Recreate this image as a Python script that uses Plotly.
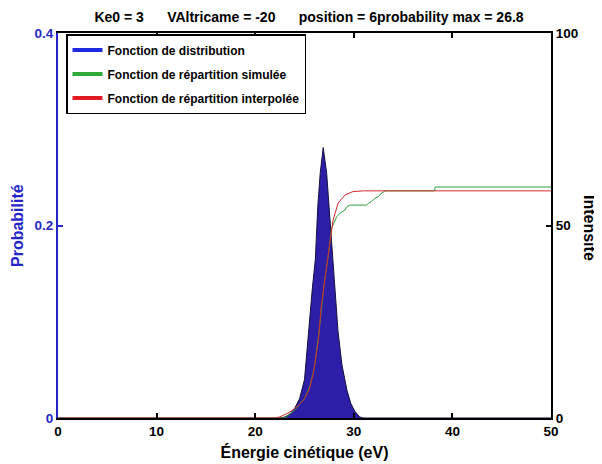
import plotly.graph_objects as go

# ---- data ----
energy_dist = [0, 22.5, 23.0, 23.5, 24.0, 24.5, 25.0, 25.4, 25.8, 26.1, 26.35, 26.6, 26.9,
               27.25, 27.5, 27.65, 27.9, 28.2, 28.4, 28.8, 29.3, 29.7, 30.1, 30.6, 31.0, 50]
prob_dist = [0, 0, 0.001, 0.004, 0.010, 0.020, 0.040, 0.090, 0.135, 0.165, 0.220, 0.255, 0.281,
             0.254, 0.220, 0.195, 0.160, 0.120, 0.090, 0.055, 0.029, 0.015, 0.007, 0.001, 0, 0]

energy_sim = [0, 23.0, 24.0, 25.0, 25.5, 26.0, 26.5, 27.0, 27.4, 27.6, 27.75, 28.27, 28.6, 29.1,
              29.3, 29.6, 31.3, 31.5, 31.8, 32.15, 32.5, 32.8, 33.2, 38.2, 38.25, 50]
cdf_sim = [0, 0, 2, 5, 8, 13, 23, 35, 42, 47, 49.3, 52.3, 53.2, 54.0,
           54.9, 55.3, 55.3, 55.8, 56.2, 57.1, 57.5, 58.4, 59.0, 59.0, 60.0, 60.0]

energy_interp = [0, 22.0, 22.5, 23.0, 23.5, 24.0, 24.5, 25.0, 25.5, 25.9, 26.4, 26.7, 26.9, 27.1,
                 27.4, 27.65, 27.9, 28.4, 29.1, 29.9, 31.0, 50]
cdf_interp = [0, 0, 0.3, 0.8, 1.5, 2.5, 3.5, 5.0, 7.5, 11.6, 20.0, 29.0, 33.0, 37.0,
              42.0, 47.0, 51.4, 55.8, 57.9, 58.8, 59.0, 59.0]

legend_labels = ["Fonction de distribution", "Fonction de répartition simulée",
                 "Fonction de répartition interpolée"]
title_parts = ["Ke0 = 3", "VAltricame = -20", "position = 6probability max = 26.8"]
x_ticks = [0, 10, 20, 30, 40, 50]
y_ticks = [0, 0.2, 0.4]
y2_ticks = [0, 50, 100]

BLUE_AX = "#2626c8"
FILL = "#2d1ea8"
GREEN = "#2f9e3f"
RED = "#d42a2a"
FONT = "Liberation Sans"

# the page body adds an 8px offset; the figure is sized to fit the window
OFF = 8
W, H = 602 - OFF, 464 - OFF
L, R, T, B = 58 - OFF, 51, 33 - OFF, 46

fig = go.Figure()
fig.add_trace(go.Scatter(x=energy_dist, y=prob_dist, mode="lines", fill="tozeroy",
                         fillcolor=FILL, line=dict(color="#141040", width=1),
                         showlegend=False, yaxis="y"))
fig.add_trace(go.Scatter(x=energy_sim, y=cdf_sim, mode="lines",
                         line=dict(color=GREEN, width=1), showlegend=False, yaxis="y2"))
fig.add_trace(go.Scatter(x=energy_interp, y=cdf_interp, mode="lines",
                         line=dict(color=RED, width=1), showlegend=False, yaxis="y2"))

# legend entries (thick swatches as in the reference)
for lab, col in zip(legend_labels, ["#1f2ae0", "#2faa3a", "#e01b24"]):
    fig.add_trace(go.Scatter(x=[None], y=[None], mode="lines", name=lab,
                             line=dict(color=col, width=4), legendgroup=lab,
                             showlegend=True))

pw, ph = W - L - R, H - T - B


def px_to_paper(xw, yw):
    # window pixel -> paper coordinates
    return ((xw - OFF - L) / pw, 1 - (yw - OFF - T) / ph)


ax_p, ay_p = px_to_paper(18, 226)
bx_p, by_p = px_to_paper(589, 228)
lx_p, ly_p = px_to_paper(66, 34)
tx_p, _ = px_to_paper(309, 0)

gap = "&nbsp;" * 6
title_html = "<b>" + gap.join(title_parts) + "</b>"

fig.update_layout(
    width=W, height=H,
    margin=dict(l=L, r=R, t=T, b=B, autoexpand=False),
    paper_bgcolor="white", plot_bgcolor="white",
    font=dict(family=FONT, size=13, color="black"),
    title=dict(text=title_html, x=tx_p, xref="paper", xanchor="center",
               y=1 - (17 - OFF) / H, yref="container", yanchor="middle",
               font=dict(family=FONT, size=14, color="black")),
    xaxis=dict(range=[0, 50], tickvals=x_ticks, ticks="inside", ticklen=5,
               tickcolor="black", tickwidth=1.5, showline=True, linecolor="black",
               linewidth=2, mirror="ticks", showgrid=False, zeroline=False,
               automargin=False,
               tickfont=dict(family=FONT, size=13.5, color="black", weight="bold"),
               title=dict(text="<b>Énergie cinétique (eV)</b>", standoff=9,
                          font=dict(family=FONT, size=16, color="black"))),
    yaxis=dict(range=[0, 0.4], tickvals=y_ticks, ticktext=["0", "0.2", "0.4"],
               ticks="inside", ticklen=5, tickcolor=BLUE_AX, tickwidth=1.5,
               showline=True, linecolor=BLUE_AX, linewidth=2, showgrid=False,
               zeroline=False, automargin=False,
               tickfont=dict(family=FONT, size=13.5, color=BLUE_AX, weight="bold")),
    yaxis2=dict(range=[0, 100], tickvals=y2_ticks, overlaying="y", side="right",
                ticks="inside", ticklen=5, tickcolor="black", tickwidth=1.5,
                showline=True, linecolor="black", linewidth=2, showgrid=False,
                zeroline=False, automargin=False,
                tickfont=dict(family=FONT, size=13.5, color="black", weight="bold")),
    legend=dict(x=lx_p, y=ly_p, xanchor="left", yanchor="top",
                bgcolor="white", bordercolor="black", borderwidth=1.5,
                font=dict(family=FONT, size=12, color="black", weight="bold"),
                tracegroupgap=5, itemwidth=30),
    annotations=[
        dict(text="<b>Probabilité</b>", x=ax_p, y=ay_p, xref="paper", yref="paper",
             showarrow=False, textangle=-90, xanchor="center", yanchor="middle",
             font=dict(family=FONT, size=16, color=BLUE_AX)),
        dict(text="<b>Intensité</b>", x=bx_p, y=by_p, xref="paper", yref="paper",
             showarrow=False, textangle=90, xanchor="center", yanchor="middle",
             font=dict(family=FONT, size=16, color="black")),
    ],
)

fig.write_html("out.html")
